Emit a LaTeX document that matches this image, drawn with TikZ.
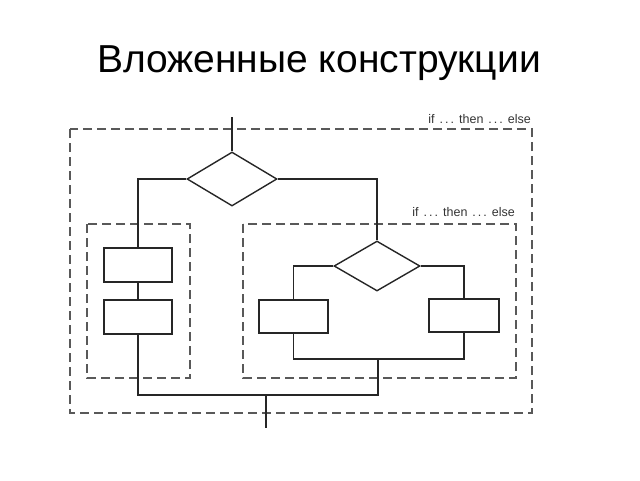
\documentclass[tikz,border=0pt]{standalone}
\usepackage{fontspec}
\setmainfont{Liberation Sans}
\usetikzlibrary{shapes.geometric}
\newcommand{\dts}{.\kern2pt.\kern2pt.}
\newcommand{\ite}{if\hspace{5pt}\dts\hspace{5pt}then\hspace{5pt}\dts\hspace{5pt}else}
\begin{document}
\begin{tikzpicture}[x=1pt,y=-1pt,
  flow/.style={draw=black!85, line width=1.6pt},
  blk/.style={draw=black!85, line width=1.4pt, rectangle, minimum width=68pt, minimum height=34pt, inner sep=0pt},
  dec/.style={draw=black!85, line width=1.4pt, diamond, minimum width=90pt, minimum height=54pt, inner sep=0pt},
  frame/.style={draw=black!65, line width=1.1pt, dash pattern=on 9pt off 5pt},
  lbl/.style={font=\fontsize{12.5}{14}\selectfont, text=black!80, inner sep=0pt}]
\useasboundingbox (0,0) rectangle (640,480);
\node[font=\fontsize{39}{44}\selectfont, anchor=base, inner sep=0pt] (title) at (319,72) {Вложенные конструкции};
% frames
\draw[frame] (70,129) rectangle (532,413);
\draw[frame] (87,224) rectangle (190,378);
\draw[frame] (243,224) rectangle (516,378);
\node[lbl, anchor=base east] (l1) at (531,123) {\ite};
\node[lbl, anchor=base east] (l2) at (515,216) {\ite};
% nodes
\coordinate (in) at (232,117);
\node[dec] (d1) at (232,179) {};
\node[blk] (b1) at (138,265) {};
\node[blk] (b2) at (138,317) {};
\node[dec, minimum width=86pt, minimum height=50pt] (d2) at (377,266) {};
\node[blk, minimum width=69pt, minimum height=33pt] (b3) at (293.5,316.5) {};
\node[blk, minimum width=70pt, minimum height=33pt] (b4) at (464,315.5) {};
\coordinate (j2) at (378,359);
\coordinate (m1) at (266,395);
\coordinate (out) at (266,428);
% connectors
\draw[flow] (in) -- (d1.north);
\draw[flow] (d1.west) -| (b1.north);
\draw[flow] (b1.south) -- (b2.north);
\draw[flow] (d1.east) -| (d2.north);
\draw[flow] (d2.west) -| (b3.north);
\draw[flow] (d2.east) -| (b4.north);
\draw[flow] (b3.south) |- (b4.south |- j2) -- (b4.south);
\draw[flow] (b2.south) |- (j2 |- m1) -- (j2);
\draw[flow] (m1) -- (out);
\end{tikzpicture}
\end{document}
